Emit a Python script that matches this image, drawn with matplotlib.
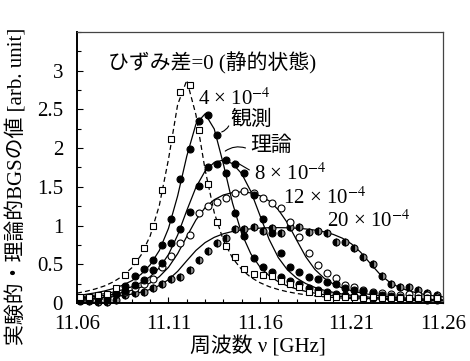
import matplotlib
matplotlib.use('Agg')
import matplotlib.pyplot as plt
import numpy as np
from matplotlib.ticker import MultipleLocator

plt.rcParams['font.family'] = ['Liberation Serif', 'Noto Sans CJK JP']
plt.rcParams['mathtext.fontset'] = 'stix'

# measured frequencies (GHz) and observed BGS values
freq_obs = np.round(11.0615 + 0.005 * np.arange(40), 4)
obs_0 = [0.08, 0.08, 0.10, 0.12, 0.19, 0.36, 0.54, 0.71, 1.00, 1.46, 2.12, 2.73, 2.81, 2.24,
         1.54, 1.05, 0.74, 0.60, 0.44, 0.38, 0.36, 0.35, 0.28, 0.24, 0.21, 0.14, 0.13, 0.08,
         0.08, 0.08, 0.08, 0.07, 0.08, 0.07, 0.06, 0.07, 0.07, 0.06, 0.07, 0.06]
obs_4 = [0.05, 0.04, 0.06, 0.05, 0.12, 0.22, 0.35, 0.44, 0.56, 0.75, 1.09, 1.60, 1.99, 2.35,
         2.43, 2.17, 1.68, 1.16, 0.86, 0.58, 0.47, 0.40, 0.33, 0.28, 0.24, 0.20, 0.17, 0.14,
         0.12, 0.10, 0.09, 0.08, 0.07, 0.06, 0.06, 0.05, 0.05, 0.05, 0.04, 0.04]
obs_8 = [0.03, 0.05, 0.06, 0.09, 0.12, 0.16, 0.23, 0.30, 0.42, 0.52, 0.77, 0.96, 1.18, 1.51,
         1.75, 1.79, 1.85, 1.79, 1.68, 1.40, 1.08, 0.90, 0.65, 0.47, 0.40, 0.34, 0.31, 0.27,
         0.24, 0.20, 0.17, 0.15, 0.13, 0.10, 0.09, 0.08, 0.07, 0.06, 0.06, 0.05]
obs_12 = [0.05, 0.06, 0.07, 0.09, 0.11, 0.14, 0.19, 0.25, 0.31, 0.47, 0.61, 0.78, 0.88, 1.16,
          1.25, 1.31, 1.36, 1.42, 1.44, 1.42, 1.36, 1.29, 1.23, 1.05, 0.85, 0.65, 0.49, 0.39,
          0.32, 0.23, 0.21, 0.17, 0.14, 0.13, 0.12, 0.10, 0.12, 0.10, 0.10, 0.08]
obs_20 = [0.04, 0.03, 0.01, 0.01, 0.04, 0.10, 0.13, 0.14, 0.19, 0.25, 0.31, 0.34, 0.43, 0.56,
          0.67, 0.78, 0.84, 0.96, 0.95, 0.98, 0.93, 0.97, 0.91, 0.98, 0.98, 0.92, 0.93, 0.90,
          0.79, 0.79, 0.71, 0.60, 0.50, 0.35, 0.25, 0.21, 0.21, 0.17, 0.13, 0.10]

# theoretical BGS curves
freq_th = np.round(11.06 + 0.005 * np.arange(41), 3)
th_0 = [0.127, 0.151, 0.181, 0.220, 0.274, 0.349, 0.456, 0.618, 0.867, 1.261, 1.857, 2.562,
        2.876, 2.430, 1.721, 1.167, 0.808, 0.580, 0.431, 0.331, 0.262, 0.211, 0.174, 0.145,
        0.123, 0.106, 0.092, 0.080, 0.071, 0.063, 0.056, 0.051, 0.046, 0.042, 0.038, 0.035,
        0.032, 0.030, 0.027, 0.025, 0.024]
th_4 = [0.096, 0.112, 0.131, 0.155, 0.187, 0.230, 0.288, 0.371, 0.493, 0.678, 0.964, 1.383,
        1.897, 2.311, 2.443, 2.247, 1.794, 1.289, 0.896, 0.634, 0.464, 0.352, 0.275, 0.220,
        0.180, 0.150, 0.127, 0.108, 0.094, 0.082, 0.072, 0.064, 0.057, 0.051, 0.046, 0.042,
        0.039, 0.035, 0.032, 0.030, 0.027]
th_8 = [0.077, 0.089, 0.102, 0.120, 0.142, 0.171, 0.210, 0.263, 0.340, 0.454, 0.626, 0.877,
        1.195, 1.494, 1.704, 1.815, 1.846, 1.800, 1.670, 1.441, 1.129, 0.821, 0.586, 0.427,
        0.322, 0.251, 0.201, 0.164, 0.137, 0.116, 0.099, 0.086, 0.075, 0.067, 0.059, 0.053,
        0.048, 0.043, 0.039, 0.036, 0.033]
th_12 = [0.065, 0.073, 0.084, 0.097, 0.114, 0.136, 0.164, 0.204, 0.259, 0.340, 0.461, 0.637,
         0.859, 1.073, 1.232, 1.334, 1.395, 1.426, 1.435, 1.422, 1.385, 1.318, 1.205, 1.034,
         0.813, 0.597, 0.433, 0.321, 0.246, 0.195, 0.158, 0.131, 0.110, 0.094, 0.082, 0.071,
         0.063, 0.056, 0.050, 0.045, 0.041]
th_20 = [0.049, 0.055, 0.062, 0.071, 0.082, 0.096, 0.115, 0.140, 0.175, 0.226, 0.301, 0.409,
         0.546, 0.679, 0.780, 0.848, 0.894, 0.924, 0.945, 0.958, 0.967, 0.972, 0.973, 0.971,
         0.966, 0.956, 0.941, 0.919, 0.886, 0.837, 0.763, 0.655, 0.518, 0.385, 0.283, 0.214,
         0.167, 0.134, 0.110, 0.093, 0.079]

xticks = [11.06, 11.11, 11.16, 11.21, 11.26]
yticks = [0, 0.5, 1, 1.5, 2, 2.5, 3]
ytick_labels = ['0', '0.5', '1', '1.5', '2', '2.5', '3']

fig = plt.figure(figsize=(4.7, 3.61), dpi=100)
ax = fig.add_axes([0.1638, 0.1607, 0.7788, 0.7507])

lw = 0.9
ax.plot(freq_th, th_0, color='black', lw=lw, ls=(0, (4, 2.5)))
ax.plot(freq_th, th_4, color='black', lw=lw)
ax.plot(freq_th, th_8, color='black', lw=lw)
ax.plot(freq_th, th_12, color='black', lw=lw)
ax.plot(freq_th, th_20, color='black', lw=lw)

ms = 5
kw = dict(ls='none', clip_on=False, markeredgewidth=0.8, markeredgecolor='black')
ax.plot(freq_obs, obs_20, marker='o', ms=ms, fillstyle='left', markerfacecolor='black',
        markerfacecoloralt='#8a8a8a', **kw)
ax.plot(freq_obs, obs_12, marker='o', ms=ms, markerfacecolor='white', **kw)
ax.plot(freq_obs, obs_8, marker='o', ms=ms, markerfacecolor='black', **kw)
ax.plot(freq_obs, obs_4, marker='o', ms=ms, markerfacecolor='black', **kw)
ax.plot(freq_obs, obs_0, marker='s', ms=5, markerfacecolor='white', **kw)

ax.set_xlim(11.06, 11.26)
ax.set_ylim(0, 3.5)
ax.set_xticks(xticks)
ax.set_xticklabels([f'{v:.2f}' for v in xticks])
ax.set_yticks(yticks)
ax.set_yticklabels(ytick_labels)
ax.xaxis.set_minor_locator(MultipleLocator(0.01))
ax.yaxis.set_minor_locator(MultipleLocator(0.25))
ax.tick_params(which='both', direction='in', top=False, right=False, labelsize=15, width=0.8)
ax.tick_params(which='major', length=4)
ax.tick_params(which='minor', length=3)
ax.tick_params(axis='x', which='major', pad=9)
ax.tick_params(axis='y', which='major', pad=10)

for s in ['left', 'bottom']:
    ax.spines[s].set_linewidth(1.4)
for s in ['top', 'right']:
    ax.spines[s].set_linewidth(0.9)
    ax.spines[s].set_color('#444444')

ax.set_xlabel('周波数 ν [GHz]', fontsize=15)
ax.set_ylabel('実験的・理論的BGSの値 [arb. unit]', fontsize=15)
ax.xaxis.set_label_coords(0.494, -0.122)
ax.yaxis.set_label_coords(-0.135, 0.43)

fs = 15
ax.text(11.077, 3.1, 'ひずみ差=0 (静的状態)', fontsize=fs, ha='left', va='center')
ax.text(11.126, 2.63, '4 × 10$^{-4}$', fontsize=fs, ha='left', va='center')
ax.text(11.144, 2.36, '観測', fontsize=fs, ha='left', va='center')
ax.text(11.1545, 2.02, '理論', fontsize=fs, ha='left', va='center')
ax.text(11.1567, 1.66, '8 × 10$^{-4}$', fontsize=fs, ha='left', va='center')
ax.text(11.1726, 1.36, '12 × 10$^{-4}$', fontsize=fs, ha='left', va='center')
ax.text(11.1966, 1.06, '20 × 10$^{-4}$', fontsize=fs, ha='left', va='center')

ax.annotate('', xy=(11.1376, 2.20), xytext=(11.1435, 2.32),
            arrowprops=dict(arrowstyle='-', lw=0.8, connectionstyle='arc3,rad=-0.3'))
ax.annotate('', xy=(11.1398, 1.94), xytext=(11.1535, 1.99),
            arrowprops=dict(arrowstyle='-', lw=0.8, connectionstyle='arc3,rad=0.3'))
ax.annotate('', xy=(11.1447, 1.85), xytext=(11.1555, 1.70),
            arrowprops=dict(arrowstyle='-', lw=0.8))

fig.savefig('out.png', dpi=100)
